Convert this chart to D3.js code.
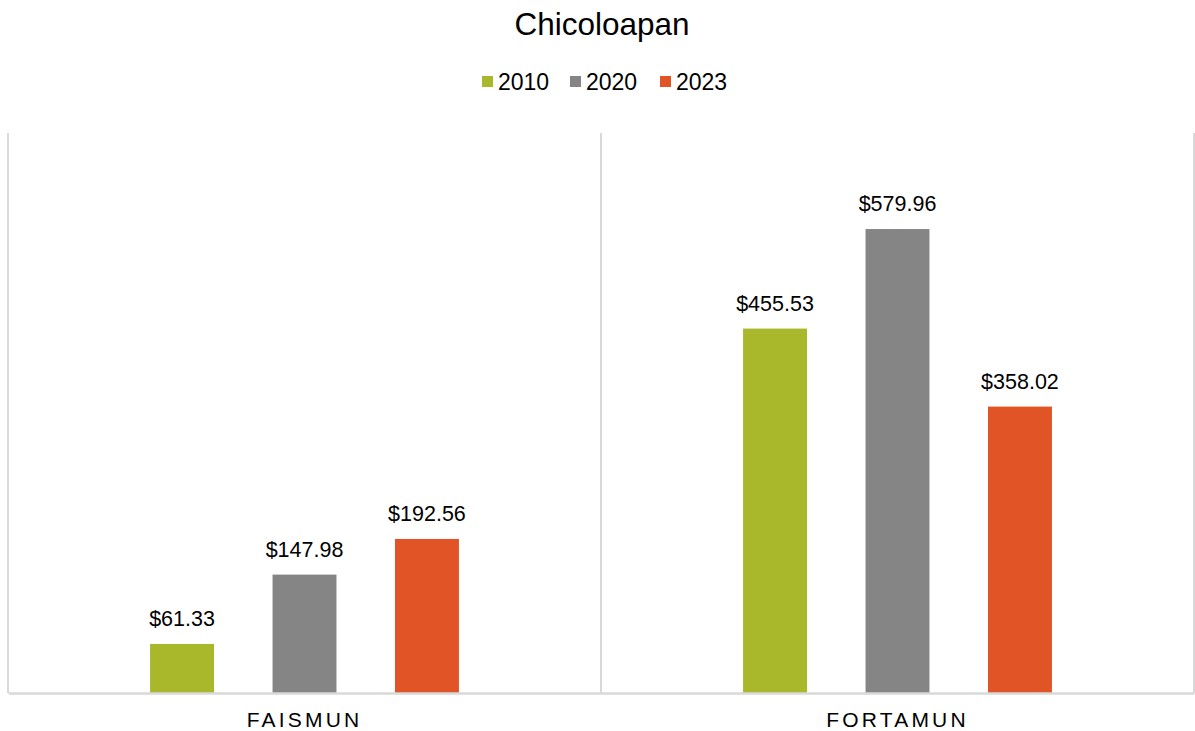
<!DOCTYPE html>
<html>
<head>
<meta charset="utf-8">
<script src="https://cdn.jsdelivr.net/npm/d3@7"></script>
<style>
  body { margin: 0; background: #fff; }
  text { font-family: "Liberation Sans", Arial, sans-serif; fill: #000; }
</style>
</head>
<body>
<div id="chart"></div>
<script>
// data
var categories = ["FAISMUN", "FORTAMUN"];
var years = ["2010", "2020", "2023"];
var values2010 = [61.33, 455.53];
var values2020 = [147.98, 579.96];
var values2023 = [192.56, 358.02];
var colors = ["#a8b82a", "#858585", "#e05426"];

var seriesValues = [values2010, values2020, values2023];

var svgWidth = 1195;
var svgHeight = 731;

var margin = { top: 133, right: 1, bottom: 38, left: 8 };
var width = svgWidth - margin.left - margin.right;
var height = svgHeight - margin.top - margin.bottom;

var svg = d3.select("#chart")
  .append("svg")
  .attr("width", svgWidth)
  .attr("height", svgHeight);

var chartGroup = svg.append("g")
  .attr("transform", `translate(${margin.left}, ${margin.top})`);

// scales
var x0 = d3.scaleBand()
  .domain(categories)
  .range([0, width])
  .padding(0);

var x1 = d3.scaleBand()
  .domain(years)
  .range([0, x0.bandwidth()])
  .paddingInner(0.478)
  .paddingOuter(1.16);

var y = d3.scaleLinear()
  .domain([0, 700])
  .range([height, 0]);

// category separators
chartGroup.selectAll(".sep")
  .data([0].concat(categories.map(c => x0(c) + x0.bandwidth())))
  .enter()
  .append("line")
  .attr("x1", d => d)
  .attr("x2", d => d)
  .attr("y1", 0)
  .attr("y2", height)
  .attr("stroke", "#d9d9d9")
  .attr("stroke-width", 2);

// bars
var rows = [];
categories.forEach(function (c, i) {
  years.forEach(function (yr, j) {
    rows.push({ cat: c, year: yr, value: seriesValues[j][i], color: colors[j] });
  });
});

chartGroup.selectAll("rect")
  .data(rows)
  .enter()
  .append("rect")
  .attr("x", d => x0(d.cat) + x1(d.year))
  .attr("y", d => y(d.value))
  .attr("width", x1.bandwidth())
  .attr("height", d => height - y(d.value))
  .attr("fill", d => d.color);

// data labels
chartGroup.selectAll(".label")
  .data(rows)
  .enter()
  .append("text")
  .attr("x", d => x0(d.cat) + x1(d.year) + x1.bandwidth() / 2)
  .attr("y", d => y(d.value) - 18)
  .attr("text-anchor", "middle")
  .style("font-size", "21.5px")
  .text(d => "$" + d3.format(",.2f")(d.value));

// x axis
var bottomAxis = d3.axisBottom(x0).tickSize(0).tickPadding(0);
var xAxis = chartGroup.append("g")
  .attr("transform", `translate(0, ${height})`)
  .call(bottomAxis);
xAxis.select(".domain")
  .attr("stroke", "#d9d9d9")
  .attr("stroke-width", 2.5);
xAxis.selectAll("text")
  .attr("dy", null)
  .attr("y", 34)
  .attr("dx", 0)
  .style("font-size", "21px")
  .style("letter-spacing", "3.2px")
  .style("font-family", "'Liberation Sans', Arial, sans-serif")
  .attr("fill", "#000");

// title
svg.append("text")
  .attr("x", 602)
  .attr("y", 35)
  .attr("text-anchor", "middle")
  .style("font-size", "31.5px")
  .text("Chicoloapan");

// legend
var legendX = [482, 570, 660];
var legend = svg.selectAll(".legend")
  .data(years)
  .enter()
  .append("g")
  .attr("transform", (d, i) => `translate(${legendX[i]}, 76)`);

legend.append("rect")
  .attr("width", 11)
  .attr("height", 11)
  .attr("fill", (d, i) => colors[i]);

legend.append("text")
  .attr("x", 16)
  .attr("y", 13.5)
  .style("font-size", "23px")
  .text(d => d);
</script>
</body>
</html>
